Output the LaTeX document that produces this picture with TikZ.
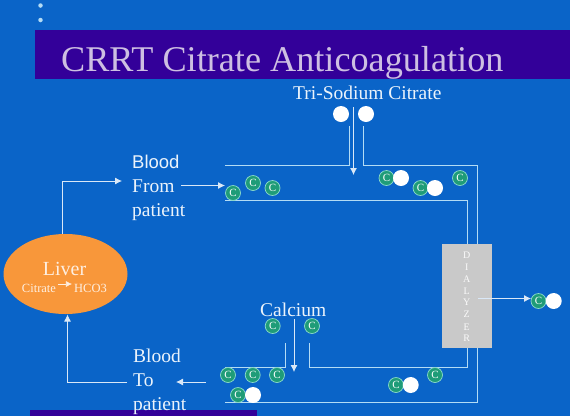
\documentclass[tikz,border=0pt]{standalone}
\usepackage{fontspec}
\setmainfont{Liberation Serif}
\setsansfont{Liberation Sans}
\usepackage{tikz}
\usetikzlibrary{positioning,arrows.meta,calc,shapes.geometric}
\definecolor{slideblue}{HTML}{0A64C8}
\definecolor{bandblue}{HTML}{330099}
\definecolor{titlelilac}{HTML}{CDBFE2}
\definecolor{liverorange}{HTML}{F8973A}
\definecolor{ionalgreen}{HTML}{1F9C78}
\definecolor{ionring}{HTML}{8CDCCB}
\definecolor{pipeline}{HTML}{B4DCF5}
\definecolor{dialgray}{HTML}{C9C9C9}

\begin{document}
\begin{tikzpicture}[
  x=1pt, y=-1pt,
  band/.style={fill=bandblue, draw=none},
  bullet/.style={circle, fill=pipeline, draw=none, minimum size=4.5pt, inner sep=0pt},
  ion/.style={circle, draw=ionring, line width=0.7pt, fill=ionalgreen, text=white, minimum size=15pt, inner sep=0pt, font={\fontsize{11}{11}\selectfont}},
  sodium/.style={circle, fill=white, draw=none, minimum size=16pt, inner sep=0pt},
  pipe/.style={draw=pipeline, line width=0.8pt},
  flow/.style={draw=white!85!slideblue, line width=0.8pt, -{Latex[length=7pt,width=7pt]}},
  lbl/.style={text=white!92!slideblue, font={\fontsize{19.5}{19.5}\selectfont}, inner sep=0pt, anchor=base west},
  dletter/.style={text=white!90!dialgray, font={\fontsize{10}{10}\selectfont}, inner sep=0pt}
]
\useasboundingbox (0,0) rectangle (570,416);
\fill[slideblue] (0,0) rectangle (570,416);

% title
\node[bullet] (b1) at (40.5,5.5) {};
\node[bullet] (b2) at (40.5,20) {};
\path[band] (35,30) rectangle (570,79);
\path[band] (30,410) rectangle (257,416);
\node[text=titlelilac, font={\fontsize{36.2}{36.2}\selectfont}, inner sep=0pt, anchor=base west] (title) at (61,71.5) {CRRT Citrate Anticoagulation};

% circuit corners
\coordinate (a1) at (225,165);
\coordinate (a2) at (349,165);
\coordinate (a3) at (349,126);
\coordinate (b3) at (363.5,126);
\coordinate (b4) at (363.5,165);
\coordinate (b5) at (477.5,165);
\coordinate (b6) at (477.5,402);
\coordinate (b7) at (225,402);
\coordinate (c1) at (225,200);
\coordinate (c2) at (467.5,200);
\coordinate (c3) at (467.5,367.5);
\coordinate (c4) at (309.5,367.5);
\coordinate (c5) at (309.5,343);
\coordinate (d1) at (285,343);
\coordinate (d2) at (285,367.5);
\coordinate (d3) at (225,367.5);
\draw[pipe] (a1) -- (a2) -- (a3);
\draw[pipe] (b3) -- (b4) -- (b5) -- (b6) -- (b7);
\draw[pipe] (c1) -- (c2) -- (c3) -- (c4) -- (c5);
\draw[pipe] (d1) -- (d2) -- (d3);

% dialyzer
\node[fill=dialgray, minimum width=50pt, minimum height=104.5pt, inner sep=0pt] (dial) at (467.3,296.2) {};
\node[dletter] (d) at (466.7,255.7) {D};
\node[dletter] (i) at (466.7,267.2) {I};
\node[dletter] (l1) at (466.7,279.2) {A};
\node[dletter] (l2) at (466.7,291) {L};
\node[dletter] (y) at (466.7,302.5) {Y};
\node[dletter] (z) at (466.7,314.5) {Z};
\node[dletter] (e) at (466.7,327) {E};
\node[dletter] (r) at (466.7,338.5) {R};

% liver
\node[ellipse, fill=liverorange, minimum width=124pt, minimum height=80pt, inner sep=0pt] (liver) at (65.5,274) {};
\node[text=white!85!liverorange, font={\fontsize{20}{20}\selectfont}, inner sep=0pt] (livertxt) at (64.5,269) {Liver};
\node[text=white!85!liverorange, font={\fontsize{12.5}{12.5}\selectfont}, inner sep=0pt] (citrate) at (39,288) {Citrate};
\node[text=white!85!liverorange, font={\fontsize{12.5}{12.5}\selectfont}, inner sep=0pt] (hco) at (90.5,288) {HCO3};
\draw[white!85!liverorange, line width=0.6pt, -{Latex[length=6pt,width=6pt]}] ($(citrate.east)+(2,-4)$) -- ($(hco.west)+(-2,-4)$);

% labels
\node[lbl, font={\sffamily\fontsize{18.5}{18.5}\selectfont}] (blood1) at (132,168) {Blood};
\node[lbl] (from) at (132,192) {From};
\node[lbl] (pat1) at (132,216) {patient};
\node[lbl] (blood2) at (133,362) {Blood};
\node[lbl] (to) at (133,386) {To};
\node[lbl] (pat2) at (133,410) {patient};
\node[lbl] (tri) at (293,99) {Tri-Sodium Citrate};
\node[lbl] (ca) at (260,316) {Calcium};

% arrows
\coordinate (e1) at (62.7,181);
\coordinate (e2) at (122,181);
\coordinate (f1) at (181,185.5);
\coordinate (f2) at (225,185.5);
\coordinate (g1) at (353.5,107);
\coordinate (g2) at (353.5,175);
\coordinate (h1) at (294,319);
\coordinate (h2) at (294,372);
\coordinate (j1) at (206,382);
\coordinate (j2) at (176,382);
\coordinate (k1) at (127,382);
\coordinate (k2) at (67.5,382);
\coordinate (k3) at (67.5,314.5);
\coordinate (m1) at (478,298.5);
\coordinate (m2) at (531,298.5);
\coordinate (e0) at (62.7,234);
\draw[flow] (e0) -- (e1) -- (e2);
\draw[flow] (f1) -- (f2);
\draw[flow] (g1) -- (g2);
\draw[flow] (h1) -- (h2);
\draw[flow] (j1) -- (j2);
\draw[flow] (k1) -- (k2) -- (k3);
\draw[flow] (m1) -- (m2);

% sodium at the top
\node[sodium] (na1) at (341,114) {};
\node[sodium] (na2) at (366,114) {};

% ions
\node[ion] (c01) at (233,193) {C};
\node[ion] (c02) at (253,183) {C};
\node[ion] (c03) at (272.5,188) {C};
\node[ion] (c04) at (386.5,178) {C};
\node[sodium] (n04) at (401,178) {};
\node[ion] (c05) at (420.5,188) {C};
\node[sodium] (n05) at (435,188) {};
\node[ion] (c06) at (460,178) {C};
\node[ion] (c07) at (272.7,326) {C};
\node[ion] (c08) at (312,326) {C};
\node[ion] (c09) at (228,375) {C};
\node[ion] (c10) at (252.7,375) {C};
\node[ion] (c11) at (277,375) {C};
\node[ion] (c12) at (238,395) {C};
\node[sodium] (n12) at (253,395) {};
\node[ion] (c13) at (396,385) {C};
\node[sodium] (n13) at (410.7,385) {};
\node[ion] (c14) at (435,375) {C};
\node[ion] (c15) at (538.5,301) {C};
\node[sodium] (n15) at (553.7,301) {};
\end{tikzpicture}
\end{document}
